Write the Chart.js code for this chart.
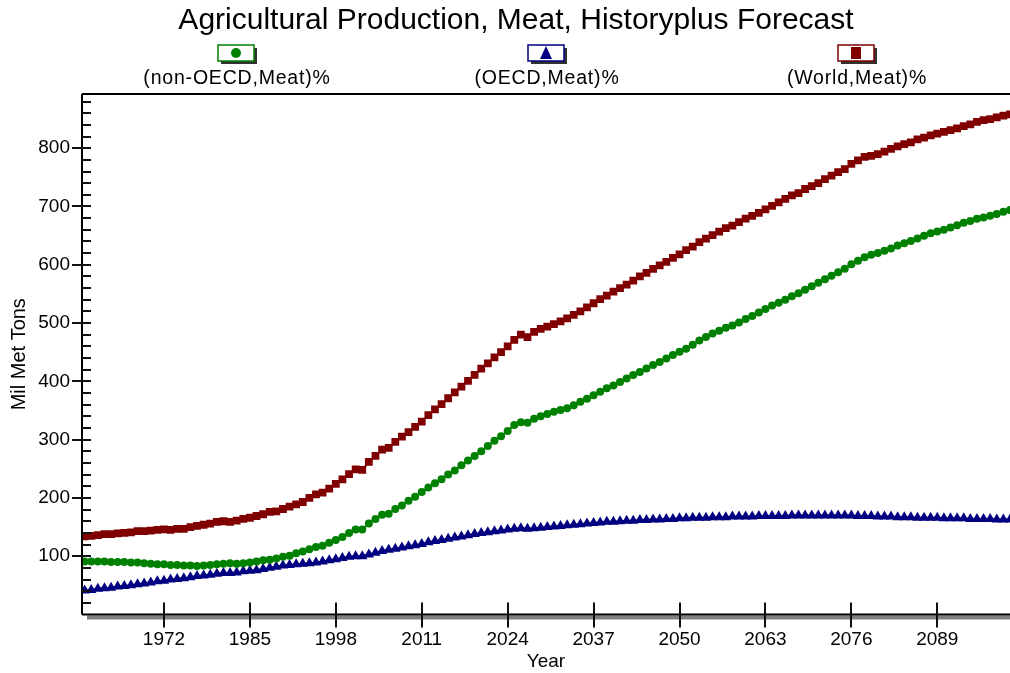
<!DOCTYPE html>
<html>
<head>
<meta charset="utf-8">
<script src="https://cdn.jsdelivr.net/npm/chart.js@4.4.1/dist/chart.umd.min.js"></script>
<style>
  html, body { margin: 0; padding: 0; background: #fff; }
</style>
</head>
<body>
<canvas id="myChart" width="1010" height="673"></canvas>
<script>
// years 1960 .. 2100, one point per year
const firstYear = 1960
const lastYear = 2100
const years = []
for (let y = firstYear; y <= lastYear; y++) years.push(y)

const seriesNames = ['(non-OECD,Meat)%', '(OECD,Meat)%', '(World,Meat)%']

const nonOecd = [
  91, 91, 91, 91, 90, 90, 90, 89, 89, 88,
  87, 86, 86, 85, 85, 84, 84, 83, 84, 85,
  86, 87, 88, 87, 88, 89, 91, 93, 94, 96,
  99, 101, 105, 108, 112, 116, 118, 123, 128, 133,
  140, 146, 146, 156, 164, 171, 173, 181, 187, 195,
  202, 210, 218, 225, 232, 240, 247, 256, 264, 272,
  280, 289, 298, 306, 315, 325, 330, 329, 336, 340,
  344, 348, 351, 354, 359, 365, 370, 376, 382, 388,
  393, 399, 405, 411, 416, 422, 428, 433, 439, 445,
  451, 456, 463, 470, 476, 482, 487, 492, 496, 501,
  507, 512, 518, 524, 530, 535, 540, 546, 551, 557,
  563, 569, 575, 581, 587, 593, 601, 607, 613, 617,
  620, 624, 628, 633, 637, 641, 645, 650, 654, 657,
  660, 664, 668, 672, 675, 679, 681, 684, 687, 691,
  694
]

const oecd = [
  41, 42, 44, 45, 46, 48, 49, 50, 52, 53,
  55, 57, 58, 60, 61, 62, 64, 66, 67, 68,
  70, 71, 71, 72, 74, 75, 76, 78, 80, 82,
  84, 85, 86, 87, 88, 89, 91, 93, 95, 97,
  99, 100, 100, 103, 106, 109, 111, 113, 115, 117,
  119, 121, 124, 126, 128, 130, 132, 134, 136, 138,
  140, 141, 143, 144, 146, 147, 148, 147, 148, 149,
  150, 151, 152, 153, 154, 155, 156, 157, 158, 159,
  159, 160, 161, 161, 162, 162, 163, 163, 164, 164,
  165, 165, 166, 166, 166, 167, 167, 167, 168, 168,
  168, 168, 169, 169, 169, 169, 169, 170, 170, 170,
  170, 170, 170, 170, 170, 170, 170, 169, 169, 169,
  168, 168, 168, 167, 167, 167, 166, 166, 166, 166,
  165, 165, 165, 165, 164, 164, 164, 164, 163, 163,
  163
]

const world = [
  134, 135, 136, 138, 138, 139, 140, 141, 143, 143,
  144, 145, 146, 145, 147, 147, 150, 152, 154, 156,
  159, 160, 159, 161, 164, 166, 169, 172, 176, 177,
  181, 185, 189, 193, 200, 206, 209, 216, 224, 232,
  241, 249, 248, 262, 272, 283, 286, 296, 305, 313,
  322, 331, 342, 352, 361, 371, 381, 391, 401, 411,
  422, 431, 441, 450, 460, 471, 480, 476, 485, 490,
  494, 498, 503, 508, 514, 520, 527, 534, 541, 547,
  554, 560, 566, 573, 580, 586, 593, 599, 605, 612,
  618, 625, 631, 639, 645, 651, 657, 663, 667, 673,
  679, 684, 689, 695, 701, 707, 713, 719, 723, 730,
  735, 740, 747, 753, 759, 764, 773, 779, 785, 787,
  790, 794, 799, 803, 807, 810, 815, 818, 822, 825,
  828, 831, 834, 838, 841, 845, 848, 850, 853, 856,
  858
]

const xTickYears = [1972, 1985, 1998, 2011, 2024, 2037, 2050, 2063, 2076, 2089]
const yTickValues = [100, 200, 300, 400, 500, 600, 700, 800]
const yMinorStep = 20

const colors = ['#008000', '#000080', '#800000']
const shapes = ['circle', 'triangle', 'rect']
const font = '"Liberation Sans", Arial, sans-serif'

const toPoints = vals => vals.map((v, i) => ({ x: years[i], y: v }))

// title, legend boxes, frame and tick marks
const decor = {
  id: 'decor',
  afterDraw(chart) {
    const ctx = chart.ctx
    const area = chart.chartArea
    const xs = chart.scales.x
    const ys = chart.scales.y
    ctx.save()

    // title
    ctx.fillStyle = '#000'
    ctx.font = '30px ' + font
    ctx.textAlign = 'center'
    ctx.textBaseline = 'middle'
    ctx.fillText('Agricultural Production, Meat, Historyplus Forecast', 516, 21)

    // legend
    const mid = (area.left + area.right) / 2
    const centers = [mid - 310, mid, mid + 310]
    centers.forEach((cx, i) => {
      const bw = 36, bh = 16, top = 45
      ctx.fillStyle = '#333'
      ctx.fillRect(cx - bw / 2 + 3, top + 3, bw, bh)
      ctx.fillStyle = '#fff'
      ctx.fillRect(cx - bw / 2, top, bw, bh)
      ctx.strokeStyle = colors[i]
      ctx.lineWidth = 1.5
      ctx.strokeRect(cx - bw / 2, top, bw, bh)
      ctx.fillStyle = colors[i]
      ctx.beginPath()
      const my = top + bh / 2
      if (shapes[i] === 'circle') {
        ctx.arc(cx, my, 5, 0, Math.PI * 2)
      } else if (shapes[i] === 'triangle') {
        ctx.moveTo(cx, my - 7)
        ctx.lineTo(cx + 6, my + 6)
        ctx.lineTo(cx - 6, my + 6)
        ctx.closePath()
      } else {
        ctx.rect(cx - 5, my - 6, 10, 12)
      }
      ctx.fill()

      ctx.fillStyle = '#000'
      ctx.font = '19.5px ' + font
      ctx.letterSpacing = '0.8px'
      ctx.textAlign = 'center'
      ctx.textBaseline = 'middle'
      ctx.fillText(seriesNames[i], cx + 1, 79)
      ctx.letterSpacing = '0px'
    })

    // shadow under the x axis
    ctx.fillStyle = '#808080'
    ctx.fillRect(area.left + 5, area.bottom + 1, area.right - area.left, 4)

    // frame lines
    ctx.strokeStyle = '#000'
    ctx.lineWidth = 2
    ctx.beginPath()
    ctx.moveTo(area.left, area.top)
    ctx.lineTo(area.right, area.top)
    ctx.moveTo(area.left, area.top)
    ctx.lineTo(area.left, area.bottom)
    ctx.moveTo(area.left, area.bottom)
    ctx.lineTo(area.right, area.bottom)
    ctx.stroke()

    // y ticks: majors cross the axis, minors point inward
    ctx.lineWidth = 2
    ctx.strokeStyle = '#111'
    ctx.beginPath()
    for (let v = yMinorStep; v < ys.max; v += yMinorStep) {
      const py = Math.round(ys.getPixelForValue(v))
      const major = yTickValues.includes(v)
      ctx.moveTo(area.left - (major ? 10 : 0), py)
      ctx.lineTo(area.left + 9, py)
    }
    // x ticks
    xTickYears.forEach(yr => {
      const px = Math.round(xs.getPixelForValue(yr))
      ctx.moveTo(px, area.bottom - 12)
      ctx.lineTo(px, area.bottom + 13)
    })
    ctx.stroke()
    ctx.restore()
  }
}

const datasets = [nonOecd, oecd, world].map((vals, i) => ({
  label: seriesNames[i],
  data: toPoints(vals),
  borderColor: colors[i],
  backgroundColor: colors[i],
  borderWidth: 2,
  pointStyle: shapes[i],
  pointRadius: [4, 6, 5.5][i],
  pointBorderWidth: 0,
  tension: 0
}))

const config = {
  type: 'line',
  data: { datasets: datasets },
  options: {
    responsive: false,
    animation: false,
    events: [],
    layout: { autoPadding: false, padding: { top: 94, left: 0, right: 0, bottom: 0 } },
    plugins: {
      legend: { display: false },
      title: { display: false },
      tooltip: { enabled: false }
    },
    scales: {
      x: {
        type: 'linear',
        min: 1959.6,
        max: 2100,
        afterBuildTicks: s => { s.ticks = xTickYears.map(v => ({ value: v })) },
        afterFit: s => { s.height = 58.5; s.paddingLeft = 0; s.paddingRight = 0 },
        grid: { display: false, drawTicks: false },
        border: { display: false },
        ticks: {
          color: '#000',
          font: { family: font, size: 19 },
          padding: 14,
          maxRotation: 0,
          autoSkip: false,
          callback: v => String(v)
        },
        title: {
          display: true,
          text: 'Year',
          color: '#000',
          font: { family: font, size: 19 },
          padding: { top: 0, bottom: 0 }
        }
      },
      y: {
        min: 0,
        max: 893,
        afterBuildTicks: s => { s.ticks = yTickValues.map(v => ({ value: v })) },
        afterFit: s => { s.width = 82; s.paddingTop = 0; s.paddingBottom = 0 },
        grid: { display: false, drawTicks: false },
        border: { display: false },
        ticks: {
          color: '#000',
          font: { family: font, size: 19 },
          padding: 12,
          callback: v => String(v)
        },
        title: {
          display: true,
          text: 'Mil Met Tons',
          color: '#000',
          font: { family: font, size: 20 },
          padding: { top: 7, bottom: 0 }
        }
      }
    }
  },
  plugins: [decor]
}

myChart = new Chart(document.getElementById('myChart'), config)
</script>
</body>
</html>
